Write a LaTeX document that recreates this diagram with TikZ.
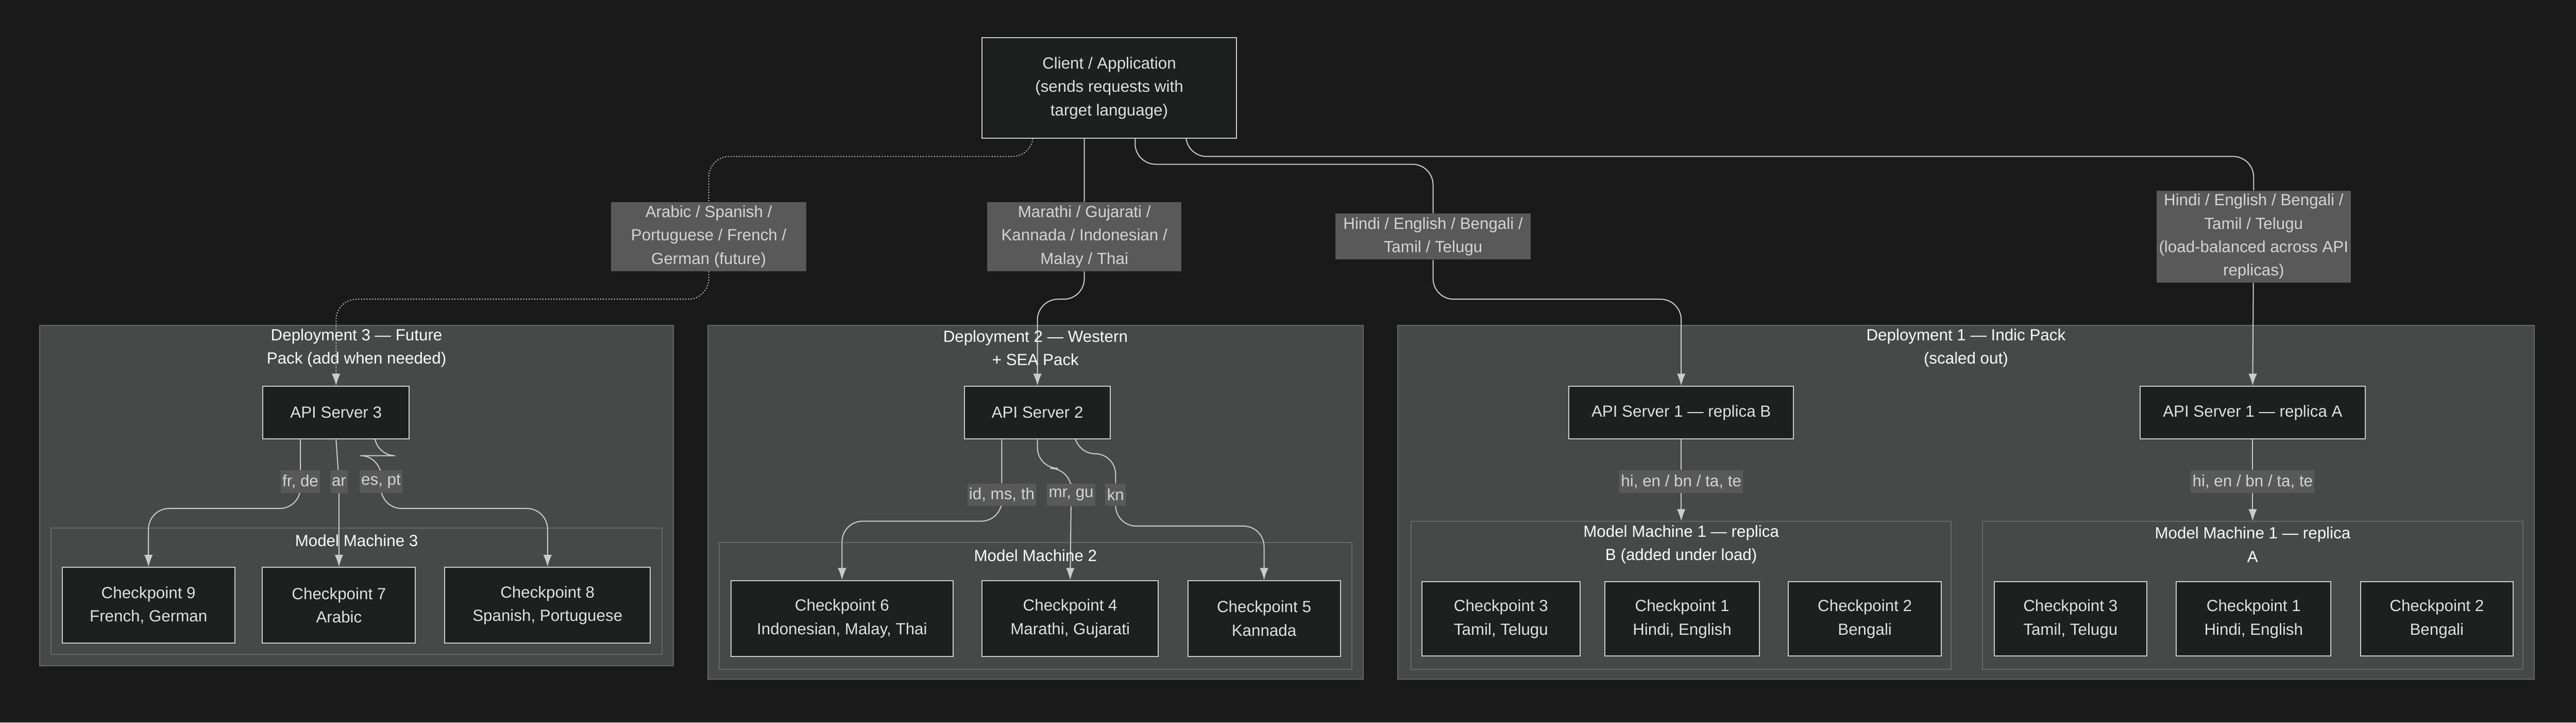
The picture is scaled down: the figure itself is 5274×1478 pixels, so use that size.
\documentclass[tikz,border=0pt]{standalone}
\usepackage{fontspec}
\setmainfont{Liberation Sans}
\usetikzlibrary{calc,arrows.meta}
\definecolor{bgdark}{HTML}{1A1A1A}
\definecolor{clusterfill}{HTML}{474948}
\definecolor{clusterline}{HTML}{666666}
\definecolor{cellfill}{HTML}{1E1F1F}
\definecolor{cellline}{HTML}{CCCCCC}
\definecolor{kantfill}{HTML}{595959}
\definecolor{kanttext}{HTML}{D4D4D4}
\pgfdeclarelayer{bottom}
\pgfdeclarelayer{background}
\pgfdeclarelayer{edges}
\pgfsetlayers{bottom,background,edges,main}
\begin{document}
\begin{tikzpicture}[
        x=0.01cm, y=-0.01cm,
        font=\fontsize{9.4}{13.6}\selectfont,
        cell/.style={draw=cellline, fill=cellfill, text=white!88!black, align=center, inner sep=0pt, line width=0.6pt}, % Стиль узлов
        kant/.style={fill=kantfill, text=kanttext, align=center, inner sep=0pt},
        cluster/.style={draw=clusterline, fill=clusterfill, line width=0.6pt},
        title/.style={text=white, align=center},
        link/.style={draw=cellline, line width=0.6pt, rounded corners=12, -{Latex[length=7pt,width=5pt]}},
    ]
    \begin{pgfonlayer}{bottom}
        \fill[bgdark] (0,0) rectangle (5274,1478);
    \end{pgfonlayer}
    \useasboundingbox (0,0) rectangle (5274,1478);

    % Клиент
    \node[cell, minimum width=5.21cm, minimum height=2.05cm] (client) at (2271,180) {Client / Application\\(sends requests with\\target language)};

    % Кластеры
    \begin{pgfonlayer}{background}
        \draw[cluster] (81,666) rectangle (1379,1362);
        \draw[cluster] (104,1080) rectangle (1355,1338);
        \draw[cluster] (1449,666) rectangle (2791,1389);
        \draw[cluster] (1473,1110) rectangle (2768,1369);
        \draw[cluster] (2862,666) rectangle (5189,1389);
        \draw[cluster] (2889,1066) rectangle (3995,1369);
        \draw[cluster] (4059,1066) rectangle (5165,1369);
    \end{pgfonlayer}
    \node[title] (dep3) at (730,712) {Deployment 3 — Future\\Pack (add when needed)};
    \node[title] (mm3) at (730,1106) {Model Machine 3};
    \node[title] (dep2) at (2120,712) {Deployment 2 — Western\\+ SEA Pack};
    \node[title] (mm2) at (2120,1136) {Model Machine 2};
    \node[title] (dep1) at (4025,712) {Deployment 1 — Indic Pack\\(scaled out)};
    \node[title] (mm1b) at (3442,1114) {Model Machine 1 — replica\\B (added under load)};
    \node[title] (mm1a) at (4612,1114) {Model Machine 1 — replica\\A};

    % API-серверы
    \node[cell, minimum width=2.99cm, minimum height=1.08cm] (api3) at (688,844) {API Server 3};
    \node[cell, minimum width=2.99cm, minimum height=1.08cm] (api2) at (2124,844) {API Server 2};
    \node[cell, minimum width=4.6cm, minimum height=1.08cm] (api1b) at (3442,844) {API Server 1 — replica B};
    \node[cell, minimum width=4.6cm, minimum height=1.08cm] (api1a) at (4612,844) {API Server 1 — replica A};

    % Чекпоинты
    \node[cell, minimum width=3.53cm, minimum height=1.55cm] (ck9) at (304,1238) {Checkpoint 9\\French, German};
    \node[cell, minimum width=3.13cm, minimum height=1.55cm] (ck7) at (694,1238) {Checkpoint 7\\Arabic};
    \node[cell, minimum width=4.21cm, minimum height=1.55cm] (ck8) at (1121,1238) {Checkpoint 8\\Spanish, Portuguese};
    \node[cell, minimum width=4.54cm, minimum height=1.55cm] (ck6) at (1724,1265) {Checkpoint 6\\Indonesian, Malay, Thai};
    \node[cell, minimum width=3.6cm, minimum height=1.55cm] (ck4) at (2191,1265) {Checkpoint 4\\Marathi, Gujarati};
    \node[cell, minimum width=3.12cm, minimum height=1.55cm] (ck5) at (2588,1265) {Checkpoint 5\\Kannada};
    \node[cell, minimum width=3.23cm, minimum height=1.52cm] (ck3b) at (3073,1266) {Checkpoint 3\\Tamil, Telugu};
    \node[cell, minimum width=3.16cm, minimum height=1.52cm] (ck1b) at (3444,1266) {Checkpoint 1\\Hindi, English};
    \node[cell, minimum width=3.13cm, minimum height=1.52cm] (ck2b) at (3818,1266) {Checkpoint 2\\Bengali};
    \node[cell, minimum width=3.12cm, minimum height=1.52cm] (ck3a) at (4239,1266) {Checkpoint 3\\Tamil, Telugu};
    \node[cell, minimum width=3.16cm, minimum height=1.52cm] (ck1a) at (4614,1266) {Checkpoint 1\\Hindi, English};
    \node[cell, minimum width=3.12cm, minimum height=1.52cm] (ck2a) at (4989,1266) {Checkpoint 2\\Bengali};

    % Подписи рёбер от клиента
    \node[kant, minimum width=4cm, minimum height=1.41cm] (k3) at (1451,484) {Arabic / Spanish /\\Portuguese / French /\\German (future)};
    \node[kant, minimum width=3.97cm, minimum height=1.41cm] (k2) at (2220,484) {Marathi / Gujarati /\\Kannada / Indonesian /\\Malay / Thai};
    \node[kant, minimum width=4cm, minimum height=0.94cm] (k1b) at (2934,484) {Hindi / English / Bengali /\\Tamil / Telugu};
    \node[kant, minimum width=3.97cm, minimum height=1.88cm] (k1a) at (4614,484) {Hindi / English / Bengali /\\Tamil / Telugu\\(load-balanced across API\\replicas)};

    % Подписи рёбер к моделям
    \node[kant, minimum height=0.46cm, inner xsep=1pt] (l9) at (615,985) {fr, de};
    \node[kant, minimum height=0.46cm, inner xsep=1pt] (l7) at (694,985) {ar};
    \node[kant, minimum height=0.46cm, inner xsep=1pt] (l8) at (780,985) {es, pt};
    \node[kant, minimum height=0.46cm, inner xsep=1pt] (l6) at (2051,1012) {id, ms, th};
    \node[kant, minimum height=0.46cm, inner xsep=1pt] (l4) at (2193,1012) {mr, gu};
    \node[kant, minimum height=0.46cm, inner xsep=1pt] (l5) at (2284,1012) {kn};
    \node[kant, minimum height=0.46cm, inner xsep=1pt] (l1b) at (3442,985) {hi, en / bn / ta, te};
    \node[kant, minimum height=0.46cm, inner xsep=1pt] (l1a) at (4612,985) {hi, en / bn / ta, te};

    % Рёбра
    \begin{pgfonlayer}{edges}
        \draw[link, densely dotted] ($(client.south)+(-156,0)$) |- (1451,320) -- (k3) -- (1451,612) -| (api3.north);
        \draw[link] ($(client.south)+(-51,0)$) -- (k2) -- (2220,612) -| (api2.north);
        \draw[link] ($(client.south)+(53,0)$) |- (2934,336) -- (k1b) -- (2934,612) -| (api1b.north);
        \draw[link] ($(client.south)+(157,0)$) |- (4614,320) -- (k1a) -- (api1a.north);

        \draw[link] ($(api3.south)+(-73,0)$) -- (l9) -- (615,1040) -| (ck9.north);
        \draw[link] (api3.south) -- (l7) -- (ck7.north);
        \draw[link] ($(api3.south)+(79,0)$) |- (780,932) -- (l8) -- (780,1040) -| (ck8.north);
        \draw[link] ($(api2.south)+(-73,0)$) -- (l6) -- (2051,1066) -| (ck6.north);
        \draw[link] (api2.south) |- (2193,958) -- (l4) -- (ck4.north);
        \draw[link] ($(api2.south)+(76,0)$) |- (2284,928) -- (l5) -- (2284,1076) -| (ck5.north);
        \draw[link] (api1b.south) -- (l1b) -- (mm1b.north |- 0,1066);
        \draw[link] (api1a.south) -- (l1a) -- (mm1a.north |- 0,1066);
    \end{pgfonlayer}
\end{tikzpicture}
\end{document}
